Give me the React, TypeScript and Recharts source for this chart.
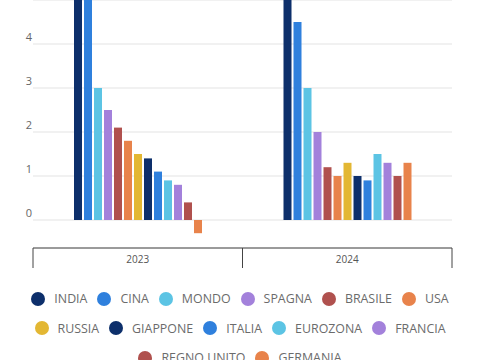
import React from 'react';
import { BarChart, Bar, XAxis, YAxis, CartesianGrid } from 'recharts';

const years = ['2023', '2024'];
const seriesNames = ['INDIA', 'CINA', 'MONDO', 'SPAGNA', 'BRASILE', 'USA', 'RUSSIA', 'GIAPPONE', 'ITALIA', 'EUROZONA', 'FRANCIA', 'REGNO UNITO', 'GERMANIA'];
const seriesColors = ['#0d2f6b', '#2f80dd', '#5cc4e4', '#a381db', '#b0514e', '#e8834b', '#e3b733', '#0d2f6b', '#2f80dd', '#5cc4e4', '#a381db', '#b0514e', '#e8834b'];
const values2023 = [7.8, 5.2, 3.0, 2.5, 2.1, 1.8, 1.5, 1.4, 1.1, 0.9, 0.8, 0.4, -0.3];
const values2024 = [7.0, 4.5, 3.0, 2.0, 1.2, 1.0, 1.3, 1.0, 0.9, 1.5, 1.3, 1.0, 1.3];
const yTicks = [0, 1, 2, 3, 4, 5, 6, 7, 8];
const yLabelMax = 4;

const valuesByYear = [values2023, values2024];
const data = years.map((y, i) => {
  const row: Record<string, string | number> = { year: y };
  seriesNames.forEach((n, j) => {
    row['s' + j] = valuesByYear[i][j];
  });
  return row;
});

const FONT = '"Open Sans", "DejaVu Sans", sans-serif';
const PLOT_LEFT = 33;
const PLOT_RIGHT = 28;
const BAND = (480 - PLOT_LEFT - PLOT_RIGHT) / years.length;

const XTick = (props: any) => {
  const { x, y, payload } = props;
  return (
    <g>
      <line x1={x - BAND / 2} x2={x - BAND / 2} y1={y} y2={y + 20} stroke="#444" strokeWidth={1} />
      <line x1={x + BAND / 2} x2={x + BAND / 2} y1={y} y2={y + 20} stroke="#444" strokeWidth={1} />
      <text x={x} y={y + 15} textAnchor="middle" fontSize={10} fill="#555" fontFamily={FONT}>
        {payload.value}
      </text>
    </g>
  );
};

const YTick = (props: any) => {
  const { y, payload } = props;
  if (payload.value < 0 || payload.value > yLabelMax) return null;
  return (
    <text x={29} y={y - 3} textAnchor="middle" fontSize={11} fill="#666" fontFamily={FONT}>
      {payload.value}
    </text>
  );
};

export default function App() {
  return (
    <div style={{ position: 'absolute', left: 0, top: 0, width: 480, height: 360, overflow: 'hidden', background: '#fff' }}>
      <div style={{ position: 'absolute', left: 0, top: -132 }}>
        <BarChart
          width={480}
          height={410}
          data={data}
          margin={{ top: 0, right: PLOT_RIGHT, bottom: 0, left: 0 }}
          barSize={8}
          barGap={2}
        >
          <CartesianGrid vertical={false} stroke="#e3e3e3" />
          <XAxis
            dataKey="year"
            height={30}
            axisLine={{ stroke: '#444' }}
            tickLine={false}
            tickSize={0}
            tickMargin={0}
            tick={<XTick />}
            interval={0}
          />
          <YAxis
            width={PLOT_LEFT}
            domain={[-0.6364, 8]}
            ticks={yTicks}
            axisLine={false}
            tickLine={false}
            tick={<YTick />}
            allowDataOverflow
          />
          {seriesNames.map((n, j) => (
            <Bar key={n} dataKey={'s' + j} name={n} fill={seriesColors[j]} isAnimationActive={false} />
          ))}
        </BarChart>
      </div>
      <div
        style={{
          position: 'absolute',
          left: 20,
          top: 284,
          width: 440,
          display: 'flex',
          flexWrap: 'wrap',
          justifyContent: 'center',
          fontFamily: FONT,
          fontSize: 12.4,
          color: '#6b6b6b',
        }}
      >
        {seriesNames.map((n, j) => (
          <div key={n} style={{ display: 'flex', alignItems: 'center', height: 29.5, margin: '0 5px' }}>
            <span
              style={{
                width: 14,
                height: 14,
                borderRadius: 7,
                background: seriesColors[j],
                display: 'inline-block',
                marginRight: 9,
              }}
            />
            <span>{n}</span>
          </div>
        ))}
      </div>
    </div>
  );
}
